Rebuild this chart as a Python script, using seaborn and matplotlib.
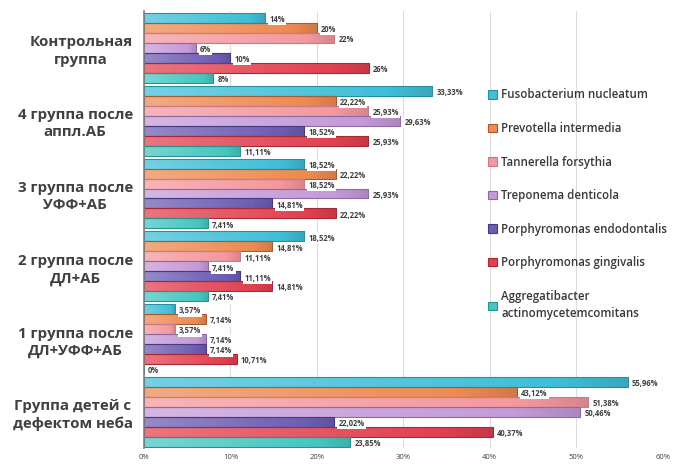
import matplotlib
matplotlib.use("Agg")
import matplotlib.pyplot as plt
import matplotlib.colors as mcolors
import numpy as np
import seaborn as sns
import pandas as pd

groups = [
    "Контрольная\nгруппа",
    "4 группа после\nаппл.АБ",
    "3 группа после\nУФФ+АБ",
    "2 группа после\nДЛ+АБ",
    "1 группа после\nДЛ+УФФ+АБ",
    "Группа детей с\nдефектом неба",
]
species = [
    "Fusobacterium nucleatum",
    "Prevotella intermedia",
    "Tannerella forsythia",
    "Treponema denticola",
    "Porphyromonas endodontalis",
    "Porphyromonas gingivalis",
    "Aggregatibacter\nactinomycetemcomitans",
]
fusobacterium = [14, 33.33, 18.52, 18.52, 3.57, 55.96]
prevotella = [20, 22.22, 22.22, 14.81, 7.14, 43.12]
tannerella = [22, 25.93, 18.52, 11.11, 3.57, 51.38]
treponema = [6, 29.63, 25.93, 7.41, 7.14, 50.46]
p_endodontalis = [10, 18.52, 14.81, 11.11, 7.14, 22.02]
p_gingivalis = [26, 25.93, 22.22, 14.81, 10.71, 40.37]
aggregatibacter = [8, 11.11, 7.41, 7.41, 0, 23.85]
x_ticks = [0, 10, 20, 30, 40, 50, 60]

series = [fusobacterium, prevotella, tannerella, treponema,
          p_endodontalis, p_gingivalis, aggregatibacter]
colors = ["#3fbfd8", "#ee8a52", "#f4989f", "#c49ad8", "#6d5db3", "#e2404f", "#45c6c1"]
edges = ["#2a8ea3", "#a85a30", "#c77b84", "#8e6aa3", "#463a82", "#a52a36", "#2c908c"]

rows = []
for sp, vals in zip(species, series):
    for g, v in zip(groups, vals):
        rows.append({"group": g, "species": sp, "value": v})
df = pd.DataFrame(rows)

sns.set_theme(style="white")
plt.rcParams["font.family"] = ["Open Sans", "DejaVu Sans"]

fig = plt.figure(figsize=(6.79, 4.66), dpi=100)
ax = fig.add_axes([0.212, 0.0376, 0.764, 0.938])

sns.barplot(data=df, y="group", x="value", hue="species", order=groups,
            hue_order=species, palette=colors, orient="h", width=0.96,
            ax=ax, legend=False, saturation=1)

ax.set_xlim(0, 60)
ylim = ax.get_ylim()


def gradient_for(color):
    # soft tint at the base of the bar, full colour, then a slightly darker tail
    base = np.array(mcolors.to_rgb(color))
    light = base + (1 - base) * 0.28
    dark = base * 0.88
    t = np.linspace(0, 1, 128)
    rgb = np.empty((1, t.size, 3))
    for i, tt in enumerate(t):
        if tt < 0.85:
            f = tt / 0.85
            rgb[0, i] = light * (1 - f) + base * f
        else:
            f = (tt - 0.85) / 0.15
            rgb[0, i] = base * (1 - f) + dark * f
    return rgb


for cont, col, ec in zip(ax.containers, colors, edges):
    grad = gradient_for(col)
    for bar in cont:
        x0, y0 = bar.get_x(), bar.get_y()
        w, h = bar.get_width(), bar.get_height()
        bar.set_edgecolor(ec)
        bar.set_linewidth(0.8)
        if w <= 0:
            continue
        bar.set_facecolor("none")
        im = ax.imshow(grad, extent=[x0, x0 + w, y0 + h, y0], aspect="auto",
                       interpolation="bilinear", zorder=bar.get_zorder() - 0.1)
        im.set_clip_path(bar)

ax.set_xlim(0, 60)
ax.set_ylim(ylim)


def fmt(v):
    if abs(v - round(v)) < 1e-9:
        return f"{int(round(v))}%"
    return f"{v:.2f}%".replace(".", ",")


for cont, vals in zip(ax.containers, series):
    for bar, v in zip(cont, vals):
        yc = bar.get_y() + bar.get_height() / 2
        ax.annotate(fmt(v), xy=(bar.get_x() + bar.get_width(), yc),
                    xytext=(3, -1.2), textcoords="offset points",
                    ha="left", va="center", fontsize=5.5, fontweight="bold",
                    color="#404040", zorder=5,
                    bbox=dict(boxstyle="square,pad=0.15", facecolor="white",
                              edgecolor="none"))

ax.set_xticks(x_ticks)
ax.set_xticklabels([f"{t}%" for t in x_ticks], fontsize=5.5, color="#404040")
ax.set_xlabel("")
ax.set_ylabel("")
ax.tick_params(axis="both", length=0)
ax.tick_params(axis="x", pad=4)
ax.tick_params(axis="y", pad=8)
for lab in ax.get_yticklabels():
    lab.set_fontsize(10.8)
    lab.set_fontweight("bold")
    lab.set_color("#404040")
    lab.set_multialignment("center")
    lab.set_linespacing(1.3)

ax.grid(axis="x", color="#dcdcdc", linewidth=0.8)
ax.set_axisbelow(True)
for s in ["top", "right", "bottom"]:
    ax.spines[s].set_visible(False)
ax.spines["left"].set_color("#808080")
ax.spines["left"].set_linewidth(1.2)

handles = [plt.Rectangle((0, 0), 1, 1, facecolor=c, edgecolor=e, linewidth=0.8)
           for c, e in zip(colors, edges)]
leg = fig.legend(handles, species, loc="upper left",
                 bbox_to_anchor=(0.712, 0.82), frameon=False,
                 fontsize=8.3, labelspacing=1.78, handlelength=0.75,
                 handleheight=0.75, handletextpad=0.4, borderaxespad=0)
for t in leg.get_texts():
    t.set_color("#383838")
    t.set_fontweight("semibold")
    t.set_linespacing(1.45)

fig.savefig("out.png", dpi=100)
